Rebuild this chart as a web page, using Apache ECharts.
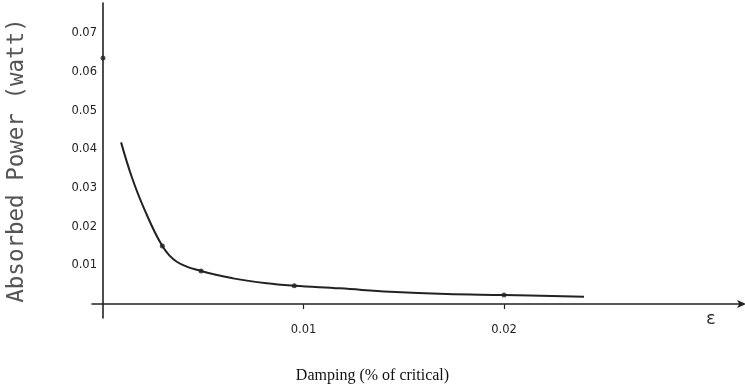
<!DOCTYPE html>
<html>
<head>
<meta charset="utf-8">
<script src="https://cdn.jsdelivr.net/npm/echarts@6/dist/echarts.min.js"></script>
<style>html,body{margin:0;padding:0;background:#fff;}#c{width:745px;height:388px;}</style>
</head>
<body>
<div id="c"></div>
<script>
// Curve: [damping, absorbed power]
const curveX = [0.00090, 0.00143, 0.00201, 0.00296, 0.00368, 0.00489, 0.00649, 0.00816, 0.00954, 0.01182, 0.01431, 0.01714, 0.02000, 0.02399];
const curveY = [0.04178, 0.03289, 0.02514, 0.01499, 0.01093, 0.00853, 0.00664, 0.00535, 0.00473, 0.00406, 0.00318, 0.00258, 0.00233, 0.00189];
// Marked points
const dotX = [0, 0.00296, 0.00489, 0.00954, 0.02000];
const dotY = [0.0636, 0.01499, 0.00853, 0.00473, 0.00233];
// Tick labels
const xTicks = [0.01, 0.02];
const yTicks = [0.01, 0.02, 0.03, 0.04, 0.05, 0.06, 0.07];

const chart = echarts.init(document.getElementById('c'));
const tickFont = {fontFamily: 'DejaVu Sans', fontSize: 11.5, color: '#222'};
chart.setOption({
  backgroundColor: '#fff',
  animation: false,
  grid: {left: 92, right: 2, top: 3, bottom: 70, containLabel: false, outerBoundsMode: 'none'},
  xAxis: {
    type: 'value', min: -0.00055, max: 0.03192,
    splitLine: {show: false},
    axisLine: {onZero: true, symbol: ['none', 'arrow'], symbolSize: [6, 9], symbolOffset: [0, 3], lineStyle: {color: '#222', width: 1.6}},
    axisTick: {show: true, customValues: xTicks, length: 5, inside: false, lineStyle: {color: '#222', width: 1.2}},
    axisLabel: Object.assign({customValues: xTicks, margin: 6, formatter: v => v.toFixed(2)}, tickFont)
  },
  yAxis: {
    type: 'value', min: -0.0036, max: 0.0778,
    splitLine: {show: false},
    axisLine: {onZero: true, lineStyle: {color: '#222', width: 1.6}},
    axisTick: {show: false},
    axisLabel: Object.assign({customValues: yTicks, margin: -5, formatter: v => v.toFixed(2)}, tickFont),
    name: 'Absorbed Power (watt)', nameLocation: 'middle', nameRotate: 90, nameGap: 63,
    nameTextStyle: {fontFamily: 'DejaVu Sans Mono', fontSize: 22.5, color: '#555'}
  },
  series: [
    {type: 'line', data: curveX.map((x, i) => [x, curveY[i]]), smooth: 0.4, showSymbol: false,
     lineStyle: {color: '#222', width: 2}},
    {type: 'scatter', data: dotX.map((x, i) => [x, dotY[i]]), symbolSize: 5, itemStyle: {color: '#222'}}
  ],
  graphic: [
    {type: 'text', left: 706, top: 310, style: {text: 'ε', font: '18px "DejaVu Sans"', fill: '#333'}},
    {type: 'text', left: 'center', top: 368, style: {text: 'Damping (% of critical)', font: '16px "Liberation Serif"', fill: '#111'}}
  ]
});
</script>
</body>
</html>
